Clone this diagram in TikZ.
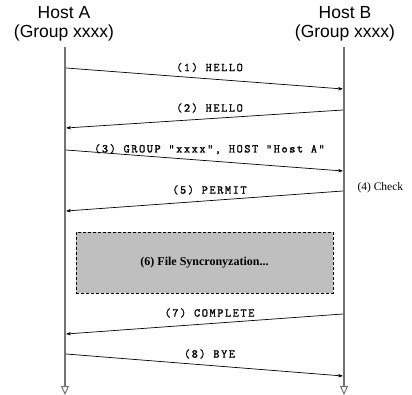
\documentclass[tikz,border=0pt]{standalone}
\usepackage{fontspec}
\setmainfont{Liberation Serif}
\setsansfont{Liberation Sans}
\newfontfamily\msgfont[LetterSpace=13, FakeBold=1.2]{Latin Modern Mono}
\usetikzlibrary{arrows.meta}
\begin{document}
\begin{tikzpicture}[x=1pt, y=-1pt, >={Stealth[length=5pt, width=3.5pt]},
          host/.style={font=\sffamily\fontsize{17.5}{19}\selectfont, align=center},
          life/.style={draw=black!55, line width=2.2pt, -{Triangle[open, length=9pt, width=8pt, line width=1pt]}},
          msg/.style={->, line width=0.7pt},
          msglabel/.style={font=\msgfont\fontsize{12}{13}\selectfont, above=6pt, xshift=5pt, inner sep=0pt},
          syncbox/.style={draw, densely dashed, line width=0.8pt, fill=black!25, minimum width=257pt, minimum height=61pt, font=\rmfamily\bfseries\fontsize{12}{14}\selectfont}]
        \useasboundingbox (0,0) rectangle (412,395);
        \node[host] (hostA) at (64,24) {Host A\\(Group xxxx)};
        \node[host] (hostB) at (345,24) {Host B\\(Group xxxx)};
        \coordinate (topA) at (65,47);
        \coordinate (topB) at (344,47);
        \coordinate (endA) at (65,395);
        \coordinate (endB) at (344,395);
        \draw[life] (topA) -- (endA);
        \draw[life] (topB) -- (endB);
        % messages
        \coordinate (a1) at (66,68);   \coordinate (b1) at (343,89);
        \coordinate (b2) at (343,110); \coordinate (a2) at (66,128);
        \coordinate (a3) at (66,150);  \coordinate (b3) at (343,171);
        \coordinate (b5) at (343,191); \coordinate (a5) at (66,211);
        \coordinate (b7) at (343,314); \coordinate (a7) at (66,334);
        \coordinate (a8) at (66,354);  \coordinate (b8) at (343,376);
        \draw[msg] (a1) -- node[msglabel] {(1) HELLO} (b1);
        \draw[msg] (b2) -- node[msglabel] {(2) HELLO} (a2);
        \draw[msg] (a3) -- node[msglabel] {(3) GROUP "xxxx", HOST "Host A"} (b3);
        \node[font=\rmfamily\fontsize{11.5}{13}\selectfont, anchor=west] (check) at (354,188) {(4) Check};
        \draw[msg] (b5) -- node[msglabel] {(5) PERMIT} (a5);
        \node[syncbox] (sync) at (204.5,262.5) {(6) File Syncronyzation...};
        \draw[msg] (b7) -- node[msglabel] {(7) COMPLETE} (a7);
        \draw[msg] (a8) -- node[msglabel] {(8) BYE} (b8);
      \end{tikzpicture}
\end{document}
